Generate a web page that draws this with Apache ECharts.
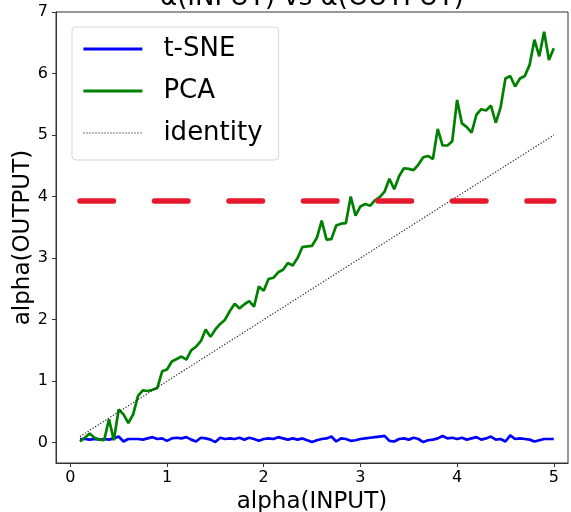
<!DOCTYPE html>
<html>
<head>
<meta charset="utf-8">
<script src="https://cdn.jsdelivr.net/npm/echarts@6/dist/echarts.min.js"></script>
<style>
  html, body { margin: 0; padding: 0; background: #fff; }
  #main { width: 571px; height: 512px; }
</style>
</head>
<body>
<div id="main"></div>
<script>
// alpha values on the x axis
const alphaIn = [
    0.10, 0.15, 0.20, 0.25, 0.30, 0.35, 0.40, 0.45, 0.50, 0.55,
    0.60, 0.65, 0.70, 0.75, 0.80, 0.85, 0.90, 0.95, 1.00, 1.05,
    1.10, 1.15, 1.20, 1.25, 1.30, 1.35, 1.40, 1.45, 1.50, 1.55,
    1.60, 1.65, 1.70, 1.75, 1.80, 1.85, 1.90, 1.95, 2.00, 2.05,
    2.10, 2.15, 2.20, 2.25, 2.30, 2.35, 2.40, 2.45, 2.50, 2.55,
    2.60, 2.65, 2.70, 2.75, 2.80, 2.85, 2.90, 2.95, 3.00, 3.05,
    3.10, 3.15, 3.20, 3.25, 3.30, 3.35, 3.40, 3.45, 3.50, 3.55,
    3.60, 3.65, 3.70, 3.75, 3.80, 3.85, 3.90, 3.95, 4.00, 4.05,
    4.10, 4.15, 4.20, 4.25, 4.30, 4.35, 4.40, 4.45, 4.50, 4.55,
    4.60, 4.65, 4.70, 4.75, 4.80, 4.85, 4.90, 4.95, 5.00
];
const tsneOut = [
    0.06, 0.06, 0.05, 0.06, 0.05, 0.06, 0.05, 0.07, 0.10, 0.02,
    0.06, 0.06, 0.06, 0.05, 0.07, 0.09, 0.06, 0.07, 0.03, 0.07,
    0.08, 0.07, 0.09, 0.05, 0.02, 0.08, 0.07, 0.05, 0.01, 0.08,
    0.06, 0.07, 0.06, 0.08, 0.05, 0.08, 0.06, 0.03, 0.06, 0.07,
    0.06, 0.09, 0.07, 0.05, 0.07, 0.05, 0.07, 0.04, 0.01, 0.04,
    0.06, 0.07, 0.10, 0.02, 0.07, 0.06, 0.03, 0.04, 0.06, 0.07,
    0.08, 0.09, 0.10, 0.11, 0.03, 0.02, 0.06, 0.07, 0.05, 0.08,
    0.06, 0.01, 0.04, 0.05, 0.07, 0.11, 0.07, 0.08, 0.06, 0.08,
    0.05, 0.07, 0.09, 0.05, 0.07, 0.10, 0.05, 0.06, 0.02, 0.12,
    0.06, 0.07, 0.06, 0.05, 0.02, 0.04, 0.06, 0.06, 0.06
];
const pcaOut = [
    0.02, 0.08, 0.15, 0.08, 0.05, 0.04, 0.38, 0.04, 0.54, 0.46,
    0.32, 0.46, 0.76, 0.85, 0.84, 0.86, 0.89, 1.16, 1.19, 1.32,
    1.36, 1.40, 1.35, 1.50, 1.56, 1.65, 1.84, 1.72, 1.84, 1.93,
    2.00, 2.14, 2.26, 2.18, 2.25, 2.30, 2.21, 2.54, 2.47, 2.66,
    2.68, 2.77, 2.81, 2.92, 2.88, 3.00, 3.18, 3.19, 3.20, 3.33,
    3.61, 3.30, 3.31, 3.53, 3.56, 3.57, 4.00, 3.69, 3.84, 3.88,
    3.85, 3.94, 3.99, 4.08, 4.29, 4.12, 4.33, 4.46, 4.45, 4.43,
    4.52, 4.64, 4.66, 4.61, 5.10, 4.83, 4.83, 4.90, 5.57, 5.19,
    5.13, 5.04, 5.33, 5.42, 5.40, 5.48, 5.20, 5.45, 5.92, 5.96,
    5.79, 5.92, 5.96, 6.14, 6.55, 6.28, 6.68, 6.22, 6.41
];
const identityLine = [[0.1, 0.1], [5, 5]];
const thresholdLine = [[0.1, 3.93], [5, 3.93]];
const xTicks = [0, 1, 2, 3, 4, 5];
const yTicks = [0, 1, 2, 3, 4, 5, 6, 7];

const chart = echarts.init(document.getElementById('main'));
const font = 'DejaVu Sans';

function pairs(ys) {
    return alphaIn.map(function (x, i) { return [x, ys[i]]; });
}

option = {
    animation: false,
    graphic: [{
        type: 'text',
        x: 312,
        y: -2,
        style: {
            text: 'α(INPUT) vs α(OUTPUT)',
            font: '26px "DejaVu Sans"',
            fill: '#000',
            textAlign: 'center',
            textVerticalAlign: 'middle'
        }
    }],
    grid: {
        left: 56,
        top: 12,
        right: 3,
        bottom: 49,
        outerBoundsMode: 'none',
        show: true,
        borderColor: '#333',
        borderWidth: 1
    },
    legend: {
        orient: 'vertical',
        left: 72,
        top: 27,
        padding: [9, 16, 14, 10],
        itemGap: 16,
        itemWidth: 59,
        itemHeight: 14,
        borderColor: '#d5d5d5',
        borderWidth: 1,
        borderRadius: 4,
        backgroundColor: 'rgba(255,255,255,0.8)',
        itemStyle: { opacity: 0 },
        textStyle: {
            fontFamily: font,
            fontSize: 26,
            lineHeight: 26,
            color: '#000',
            padding: [0, 0, 0, 16]
        },
        data: [
            { name: 't-SNE', lineStyle: { width: 2.8 } },
            { name: 'PCA', lineStyle: { width: 2.8 } },
            { name: 'identity', lineStyle: { width: 1.2 } }
        ]
    },
    xAxis: {
        type: 'value',
        min: -0.148,
        max: 5.147,
        name: 'alpha(INPUT)',
        nameLocation: 'middle',
        nameGap: 26,
        nameTextStyle: { fontFamily: font, fontSize: 23, color: '#000' },
        axisLine: { show: true, onZero: false, lineStyle: { color: '#333', width: 1 } },
        axisTick: { show: true, length: 4, customValues: xTicks, lineStyle: { color: '#333' } },
        axisLabel: { customValues: xTicks, fontFamily: font, fontSize: 16, color: '#000', margin: 7 },
        splitLine: { show: false }
    },
    yAxis: {
        type: 'value',
        min: -0.33,
        max: 7,
        name: 'alpha(OUTPUT)',
        nameLocation: 'middle',
        nameGap: 21,
        nameMoveOverlap: false,
        nameTextStyle: { fontFamily: font, fontSize: 23, color: '#000' },
        axisLine: { show: true, onZero: false, lineStyle: { color: '#333', width: 1 } },
        axisTick: { show: true, length: 4, customValues: yTicks, lineStyle: { color: '#333' } },
        axisLabel: { customValues: yTicks, fontFamily: font, fontSize: 16, color: '#000', margin: 8 },
        splitLine: { show: false }
    },
    series: [
        {
            name: 't-SNE',
            type: 'line',
            symbol: 'none',
            data: pairs(tsneOut),
            lineStyle: { color: '#0000ff', width: 2.7 },
            itemStyle: { color: '#0000ff' },
            z: 2
        },
        {
            name: 'PCA',
            type: 'line',
            symbol: 'none',
            data: pairs(pcaOut),
            lineStyle: { color: '#008000', width: 2.7 },
            itemStyle: { color: '#008000' },
            z: 3
        },
        {
            name: 'identity',
            type: 'line',
            symbol: 'none',
            data: identityLine,
            lineStyle: { color: '#222', width: 1.2, type: [1.2, 1.8] },
            itemStyle: { color: '#222' },
            z: 4
        },
        {
            name: 'threshold',
            type: 'line',
            symbol: 'none',
            data: thresholdLine,
            lineStyle: { color: '#e6182d', width: 5.5, type: [33.5, 41], cap: 'round' },
            z: 5
        }
    ]
};
chart.setOption(option);
</script>
</body>
</html>
